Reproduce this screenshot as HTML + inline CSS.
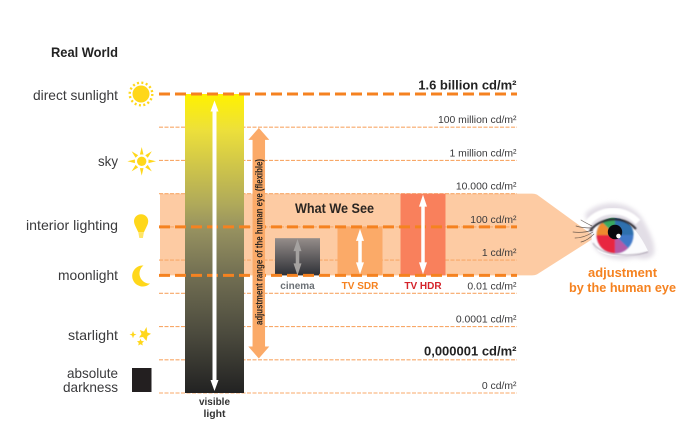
<!DOCTYPE html>
<html lang="en">
<head>
<meta charset="utf-8">
<title>Luminance range chart</title>
<style>
html,body{margin:0;padding:0;background:#fff;}
#stage{position:relative;width:700px;height:447px;overflow:hidden;background:#fff;}
svg{display:block;}
text{font-family:"Liberation Sans",sans-serif;}
.left{font-size:14px;fill:#3a3a3c;text-anchor:end;}
</style>
</head>
<body>
<div id="stage">
<svg id="chart" width="700" height="447" viewBox="0 0 700 447" xmlns="http://www.w3.org/2000/svg">
  <defs>
    <linearGradient id="visGrad" x1="0" y1="0" x2="0" y2="1">
      <stop offset="0" stop-color="#fff200"/>
      <stop offset="0.12" stop-color="#ede03a"/>
      <stop offset="0.37" stop-color="#afa95a"/>
      <stop offset="0.45" stop-color="#979260"/>
      <stop offset="0.61" stop-color="#716e52"/>
      <stop offset="0.8" stop-color="#4c4b3e"/>
      <stop offset="1" stop-color="#222222"/>
    </linearGradient>
    <linearGradient id="cinGrad" x1="0" y1="0" x2="0" y2="1">
      <stop offset="0" stop-color="#958d8a"/>
      <stop offset="1" stop-color="#2e3036"/>
    </linearGradient>
    <clipPath id="eyeOpening">
      <path d="M592,242 C590,232 596,222 610,218 C625,216 638,230 648,251 C635,257 610,259 598,251Z"/>
    </clipPath>
    <filter id="blur0" x="-20%" y="-20%" width="140%" height="140%"><feGaussianBlur stdDeviation="0.7"/></filter>
    <filter id="blur1" x="-30%" y="-30%" width="160%" height="160%"><feGaussianBlur stdDeviation="1.2"/></filter>
    <filter id="blur2" x="-30%" y="-30%" width="160%" height="160%"><feGaussianBlur stdDeviation="2.2"/></filter>
  </defs>
  <g id="bands"></g>
  <g id="thin-lines"></g>
  <g id="ranges"></g>
  <g id="visible"></g>
  <g id="thick-lines"></g>
  <g id="arrows"></g>
  <g id="value-labels"></g>

  <!-- static titles and legend of light sources -->
  <text class="left" x="118" y="57" font-weight="bold" style="fill:#222" textLength="67" lengthAdjust="spacingAndGlyphs">Real World</text>
  <text class="left" x="118" y="100" textLength="85" lengthAdjust="spacingAndGlyphs">direct sunlight</text>
  <text class="left" x="118" y="166" textLength="20" lengthAdjust="spacingAndGlyphs">sky</text>
  <text class="left" x="118" y="230" textLength="92" lengthAdjust="spacingAndGlyphs">interior lighting</text>
  <text class="left" x="118" y="280" textLength="60" lengthAdjust="spacingAndGlyphs">moonlight</text>
  <text class="left" x="118" y="340" textLength="50" lengthAdjust="spacingAndGlyphs">starlight</text>
  <text class="left" x="118" y="378" textLength="51" lengthAdjust="spacingAndGlyphs">absolute</text>
  <text class="left" x="118" y="392" textLength="55" lengthAdjust="spacingAndGlyphs">darkness</text>

  <g fill="#ffd71a" stroke="none">
    <circle cx="141" cy="94" r="8.5"/>
    <circle cx="141" cy="94" r="11.3" fill="none" stroke="#ffd71a" stroke-width="2.4" stroke-dasharray="2 2.44"/>
  </g>
  <g fill="#ffd71a">
    <circle cx="141.7" cy="161.3" r="4.7"/>
    <polygon points="139.9,154.500 143.500,154.500 141.700,147"/>
    <polygon points="139.900,154.500 143.500,154.500 141.700,147" transform="rotate(45 141.700 161.300)"/>
    <polygon points="139.900,154.500 143.500,154.500 141.700,147" transform="rotate(90 141.700 161.300)"/>
    <polygon points="139.900,154.500 143.500,154.500 141.700,147" transform="rotate(135 141.700 161.300)"/>
    <polygon points="139.900,154.500 143.500,154.500 141.700,147" transform="rotate(180 141.700 161.300)"/>
    <polygon points="139.900,154.500 143.500,154.500 141.700,147" transform="rotate(225 141.700 161.300)"/>
    <polygon points="139.900,154.500 143.500,154.500 141.700,147" transform="rotate(270 141.700 161.300)"/>
    <polygon points="139.900,154.500 143.500,154.500 141.700,147" transform="rotate(315 141.700 161.300)"/>
  </g>
  <g>
    <path d="M134,221.300 a7.100,7.100 0 1 1 14.200,0 c0,2.500 -1.200,4.500 -2,6.200 l-2.300,4.800 h-5.600 l-2.300,-4.800 c-.8,-1.700 -2,-3.700 -2,-6.200z" fill="#ffd71a"/>
    <path d="M138.300,232.300 h5.600 l-1,5.700 h-3.600z" fill="#ffe566"/>
  </g>
  <path d="M143.500,265.500 A10.500,10.500 0 1 0 150,283.500 A10,10 0 0 1 143.500,265.500Z" fill="#ffd71a"/>
  <g fill="#ffd71a">
    <polygon points="146.500,327 147.300,332.500 151,333.800 147.500,336 146.500,341 143,337 139,337.500 141.500,334 139.800,330 144,331.500"/>
    <polygon points="140.500,338.800 141.500,341 144,341.300 142.200,343 142.800,345.500 140.500,344.200 138.200,345.500 138.800,343 137,341.300 139.500,341"/>
    <polygon points="133,331 134,333.800 136.500,334.500 134,335.500 133,338.300 132,335.500 129.500,334.500 132,333.800"/>
  </g>
  <rect x="132" y="368" width="19.500" height="24" fill="#231f20"/>

  <text x="295" y="213" font-size="14" font-weight="bold" fill="#2b2622" textLength="79" lengthAdjust="spacingAndGlyphs">What We See</text>
  <text x="214.500" y="405" font-size="10" font-weight="bold" fill="#333" text-anchor="middle" textLength="31" lengthAdjust="spacingAndGlyphs">visible</text>
  <text x="214.500" y="417" font-size="10" font-weight="bold" fill="#333" text-anchor="middle" textLength="22" lengthAdjust="spacingAndGlyphs">light</text>
  <text transform="translate(262.500 325) rotate(-90)" font-size="10" font-weight="bold" fill="#2b2622" textLength="166" lengthAdjust="spacingAndGlyphs">adjustment range of the human eye (flexible)</text>

  <!-- eye illustration -->
  <g>
    <path d="M585,214 C598,200 628,198 642,218 C650,232 656,244 654,254 C648,262 640,258 634,258 C618,262 600,258 594,246 Z" fill="#d9d3de" opacity="0.75" filter="url(#blur2)"/>
    <path d="M592,242 C590,232 596,222 610,218 C625,216 638,230 648,251 C635,257 610,259 598,251Z" fill="#fbfbfd"/>
    <g clip-path="url(#eyeOpening)">
      <g filter="url(#blur0)">
        <circle cx="615" cy="235" r="18.500" fill="#3f78c8"/>
        <path d="M615,235 L596.500,235 A18.500,18.500 0 0 0 615,253.500Z" fill="#e8263f"/>
        <path d="M615,235 L596.500,235 A18.500,18.500 0 0 1 602,222Z" fill="#ee8a2e"/>
        <path d="M615,235 L602,222 A18.500,18.500 0 0 1 615,216.500Z" fill="#37a860"/>
        <path d="M615,235 L615,253.500 A18.500,18.500 0 0 0 628,248Z" fill="#b45aa6"/>
        <path d="M615,235 L615,216.500 A18.500,18.500 0 0 1 633.500,235Z" fill="#2f6fae"/>
      </g>
      <circle cx="615" cy="232" r="7.200" fill="#08080e"/>
      <circle cx="618.500" cy="236" r="2.300" fill="#ffffff"/>
    </g>
    <path d="M586,226 C596,209 622,205 638,222" fill="none" stroke="#ffffff" stroke-width="6.500" filter="url(#blur0)"/>
    <path d="M590,231 C598,219 622,213 636,229" fill="none" stroke="#26262e" stroke-width="2" filter="url(#blur0)"/>
    <path d="M593,243 C600,255 628,258 648,252" fill="none" stroke="#a99fae" stroke-width="1" filter="url(#blur0)"/>
    <g fill="none" stroke="#4b403a" stroke-width="0.7" stroke-linecap="round" opacity="0.8">
      <path d="M593,230 C587,232 580,233 573,232"/>
      <path d="M593,232 C587,236 581,238 575,238"/>
      <path d="M592,228 C587,228 582,228 576,226"/>
      <path d="M594,234 C590,238 586,241 581,242"/>
      <path d="M592,226 C588,224 584,222 581,220"/>
    </g>
  </g>
  <text x="622.500" y="277" font-size="13" font-weight="bold" fill="#f58220" text-anchor="middle" textLength="69" lengthAdjust="spacingAndGlyphs">adjustment</text>
  <text x="622.500" y="292" font-size="13" font-weight="bold" fill="#f58220" text-anchor="middle" textLength="107" lengthAdjust="spacingAndGlyphs">by the human eye</text>
</svg>
</div>
<script>
// Luminance stops, top to bottom of the ordinal scale
const stopLabels = ['1.6 billion cd/m²','100 million cd/m²','1 million cd/m²','10.000 cd/m²','100 cd/m²','1 cd/m²','0.01 cd/m²','0.0001 cd/m²','0,000001 cd/m²','0 cd/m²'];
const stopIndex = [0,1,2,3,4,5,6,7,8,9];
const boldStops = [0,8];
// Stop positions of the orange reference levels
const thickLevels = [0,4,5.46];
// Ranges in stop units: [brightest, darkest]
const visibleRange = [0,9];
const eyeRange = [3,5.46];
const flexibleRange = [1.02,7.96];
const cinemaRange = [4.34,5.46];
const sdrRange = [4,5.46];
const hdrRange = [3,5.46];

const NS = 'http://www.w3.org/2000/svg';
function yAxis(stop){ return 94 + stop * (393 - 94) / 9; }
function make(tag, parent){
  const el = document.createElementNS(NS, tag);
  document.getElementById(parent).appendChild(el);
  return el;
}
function set(el, pairs){ for (const k in pairs) el.setAttribute(k, pairs[k]); return el; }
function vArrow(cx, top, bottom, shaftW, headW, headL){
  const s = shaftW/2, h = headW/2;
  return [[cx,top],[cx+h,top+headL],[cx+s,top+headL],[cx+s,bottom-headL],[cx+h,bottom-headL],[cx,bottom],[cx-h,bottom-headL],[cx-s,bottom-headL],[cx-s,top+headL],[cx-h,top+headL]].map(p=>p.join(',')).join(' ');
}
function rangeBar(x, w, range, fill, parent){
  return set(make('rect', parent), {x:x, y:yAxis(range[0]), width:w, height:yAxis(range[1])-yAxis(range[0]), fill:fill});
}

// Peach band with funnel converging on the eye
const bandTop = yAxis(eyeRange[0]), bandBot = yAxis(eyeRange[1]);
const band = set(make('path','bands'), {
  d:'M160,'+bandTop+' H532 Q535,'+bandTop+' 537,'+(bandTop+1)+' L592,'+(bandTop+41)+' V'+(bandBot-36)+' L537,'+(bandBot-1)+' Q535,'+bandBot+' 532,'+bandBot+' H160Z',
  fill:'#fdcba3'
});



// Thin dashed grid lines
stopIndex.forEach(function(i){
  if (i === 0) return;
  const l = set(make('line','thin-lines'), {x1:159, x2:517, y1:yAxis(i), y2:yAxis(i), stroke:'#f8a868', 'stroke-width':1.1, 'stroke-dasharray':'4 1.500'});
  
  
});

// Device ranges
const cinemaBar = rangeBar(275, 45, cinemaRange, 'url(#cinGrad)', 'ranges');


const sdrBar = rangeBar(337.500, 45, sdrRange, '#fbaa68', 'ranges');


const hdrBar = rangeBar(400.500, 45, hdrRange, '#f9805c', 'ranges');



// Visible light bar
const visBar = rangeBar(185, 59, visibleRange, 'url(#visGrad)', 'visible');



// Thick dashed reference lines
thickLevels.forEach(function(s){
  const l = set(make('line','thick-lines'), {x1:159, x2:517, y1:yAxis(s), y2:yAxis(s), stroke:'#f58220', 'stroke-width':3, 'stroke-dasharray':'11 5'});
  
  
});

// Arrows
const visArrow = set(make('polygon','arrows'), {points:vArrow(214.500, yAxis(visibleRange[0])+6.500, yAxis(visibleRange[1])-2, 4, 8, 11), fill:'#ffffff'});


const flexArrow = set(make('polygon','arrows'), {points:vArrow(258.800, yAxis(flexibleRange[0]), yAxis(flexibleRange[1]), 12.500, 21, 12), fill:'#fbaa68'});


const cinArrow = set(make('polygon','arrows'), {points:vArrow(297.500, yAxis(cinemaRange[0])+1, yAxis(cinemaRange[1]), 3.500, 8, 12), fill:'#a5a2a0'});


const sdrArrow = set(make('polygon','arrows'), {points:vArrow(360, yAxis(sdrRange[0])+2, yAxis(sdrRange[1])-1, 3.500, 8, 12), fill:'#ffffff'});


const hdrArrow = set(make('polygon','arrows'), {points:vArrow(423, yAxis(hdrRange[0])+1, yAxis(hdrRange[1])-1, 3.500, 8, 12), fill:'#ffffff'});



// Value labels on the stops
stopLabels.forEach(function(label, i){
  const bold = boldStops.indexOf(i) >= 0;
  const t = set(make('text','value-labels'), {x:516.500, y:yAxis(i)-(bold?4.500:4), 'text-anchor':'end', 'font-size':bold?13:10.4, 'font-weight':bold?'bold':'normal', fill:bold?'#222':'#3a3a3c'});
  t.textContent = label;
  
  
});

// Device captions
const cinCap = set(make('text','value-labels'), {x:297.500, y:289, 'text-anchor':'middle', 'font-size':10, 'font-weight':'bold', fill:'#6b7075'});
cinCap.textContent = 'cinema';


const sdrCap = set(make('text','value-labels'), {x:360, y:289, 'text-anchor':'middle', 'font-size':10, 'font-weight':'bold', fill:'#f58220'});
sdrCap.textContent = 'TV SDR';


const hdrCap = set(make('text','value-labels'), {x:423, y:289, 'text-anchor':'middle', 'font-size':10, 'font-weight':'bold', fill:'#d4232a'});
hdrCap.textContent = 'TV HDR';


</script>
</body>
</html>
